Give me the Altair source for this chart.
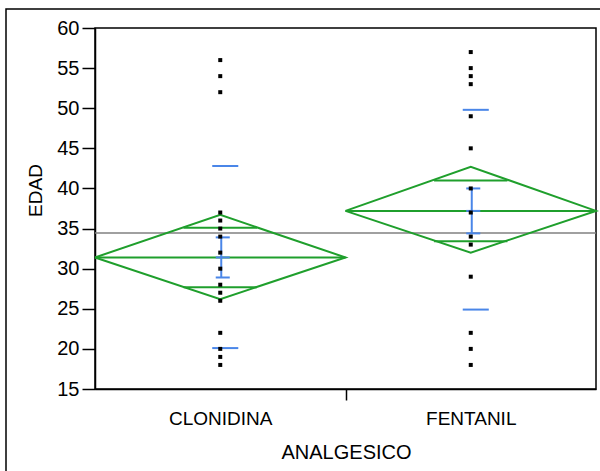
import altair as alt
import pandas as pd
import math

# ---- data ----
groups = ["CLONIDINA", "FENTANIL"]
clonidina_ages = [56, 54, 52, 37, 36, 35, 34, 32, 30, 28, 27, 26, 22, 20, 19, 18]
fentanil_ages = [57, 55, 54, 53, 49, 45, 40, 37, 34, 33, 29, 22, 20, 18]
means = [31.4, 37.2]
ci_lower = [26.2, 32.0]
ci_upper = [36.7, 42.7]
se_lower = [28.9, 34.4]
se_upper = [33.9, 40.0]
sd_lower = [20.1, 24.9]
sd_upper = [42.8, 49.8]
grand_mean = 34.45
y_ticks = [15, 20, 25, 30, 35, 40, 45, 50, 55, 60]

GREEN = "#1f9f2c"
BLUE = "#4a86e8"
FONT = "Liberation Sans"
W, H = 501, 361

# ---- tables built from the arrays ----
pts = pd.DataFrame(
    [{"x": 0.5, "y": v} for v in clonidina_ages] + [{"x": 1.5, "y": v} for v in fentanil_ages]
)

diam_rows, mean_rows, ovl_rows, se_rows, cap_rows, sd_rows = [], [], [], [], [], []
for i, g in enumerate(groups):
    x0 = float(i)
    xc = x0 + 0.5
    m = means[i]
    verts = [(x0, m), (xc, ci_upper[i]), (x0 + 1, m), (xc, ci_lower[i]), (x0, m)]
    for k, (vx, vy) in enumerate(verts):
        diam_rows.append({"g": g, "o": k, "x": vx, "y": vy})
    mean_rows.append({"x": x0, "x2": x0 + 1, "y": m})
    half = (ci_upper[i] - ci_lower[i]) / 2
    h = half / math.sqrt(2)
    hw = 0.5 * (1 - h / half)
    for lev in (m + h, m - h):
        ovl_rows.append({"x": xc - hw, "x2": xc + hw, "y": lev})
    se_rows.append({"x": xc + 0.004, "y": se_lower[i], "y2": se_upper[i]})
    for lev in (se_lower[i], m, se_upper[i]):
        cap_rows.append({"x": xc - 0.018, "x2": xc + 0.038, "y": lev})
    for lev in (sd_lower[i], sd_upper[i]):
        sd_rows.append({"x": xc - 0.032, "x2": xc + 0.072, "y": lev})

xscale = alt.Scale(domain=[0, 2], nice=False, zero=False)
yscale = alt.Scale(domain=[15, 60], nice=False, zero=False)

x_axis = alt.Axis(
    values=[0.5, 1, 1.5],
    labelExpr="datum.value == 0.5 ? 'CLONIDINA' : (datum.value == 1.5 ? 'FENTANIL' : '')",
    tickOpacity={"condition": {"test": "datum.value == 1", "value": 1}, "value": 0},
    tickSize=11, tickColor="black", tickWidth=1.5,
    domainColor="black", domainWidth=1.5,
    labelFont=FONT, labelFontSize=19, labelColor="black", labelPadding=9,
    labelBaseline="top",
    title="ANALGESICO", titleFont=FONT, titleFontSize=20, titleFontWeight="normal",
    titleColor="black", titleBaseline="middle", titleY=63, titleX=251,
    grid=False,
)
y_axis = alt.Axis(
    values=y_ticks,
    tickSize=13, tickColor="black", tickWidth=1.5,
    domainColor="black", domainWidth=1.5,
    labelFont=FONT, labelFontSize=20, labelColor="black", labelPadding=3,
    title="EDAD", titleFont=FONT, titleFontSize=19, titleFontWeight="normal",
    titleColor="black", titleBaseline="middle", titleX=-60, titleY=162,
    grid=False,
)

X = lambda f="x": alt.X(f"{f}:Q", scale=xscale, axis=x_axis)
Y = lambda f="y": alt.Y(f"{f}:Q", scale=yscale, axis=y_axis)

border = alt.Chart(pd.DataFrame({"a": [0]})).mark_rect(
    fill=None, stroke="black", strokeWidth=1.5
).encode(x=alt.value(-89), x2=alt.value(620), y=alt.value(-19), y2=alt.value(500))

gm = alt.Chart(pd.DataFrame({"y": [grand_mean]})).mark_rule(
    color="#808080", strokeWidth=1.5
).encode(y=Y(), x=alt.value(0), x2=alt.value(W))

diam = alt.Chart(pd.DataFrame(diam_rows)).mark_line(color=GREEN, strokeWidth=2).encode(
    x=X(), y=Y(), order="o:Q", detail="g:N"
)
mline = alt.Chart(pd.DataFrame(mean_rows)).mark_rule(color=GREEN, strokeWidth=2).encode(
    x=X(), x2="x2:Q", y=Y()
)
ovl = alt.Chart(pd.DataFrame(ovl_rows)).mark_rule(color=GREEN, strokeWidth=2).encode(
    x=X(), x2="x2:Q", y=Y()
)
se = alt.Chart(pd.DataFrame(se_rows)).mark_rule(color=BLUE, strokeWidth=2).encode(
    x=X(), y=Y(), y2="y2:Q"
)
caps = alt.Chart(pd.DataFrame(cap_rows)).mark_rule(color=BLUE, strokeWidth=2).encode(
    x=X(), x2="x2:Q", y=Y()
)
sd = alt.Chart(pd.DataFrame(sd_rows)).mark_rule(color=BLUE, strokeWidth=2).encode(
    x=X(), x2="x2:Q", y=Y()
)
points = alt.Chart(pts).mark_square(color="black", size=16, opacity=1).encode(x=X(), y=Y())

chart = alt.layer(border, gm, diam, mline, ovl, se, caps, sd, points).properties(
    width=W, height=H,
    autosize=alt.AutoSizeParams(type="none"),
    padding={"left": 95, "top": 28, "right": 4, "bottom": 82},
    background="white",
).configure_view(stroke="black", strokeWidth=1.5)

chart.save("out.html", embed_options={"renderer": "svg", "actions": False})
